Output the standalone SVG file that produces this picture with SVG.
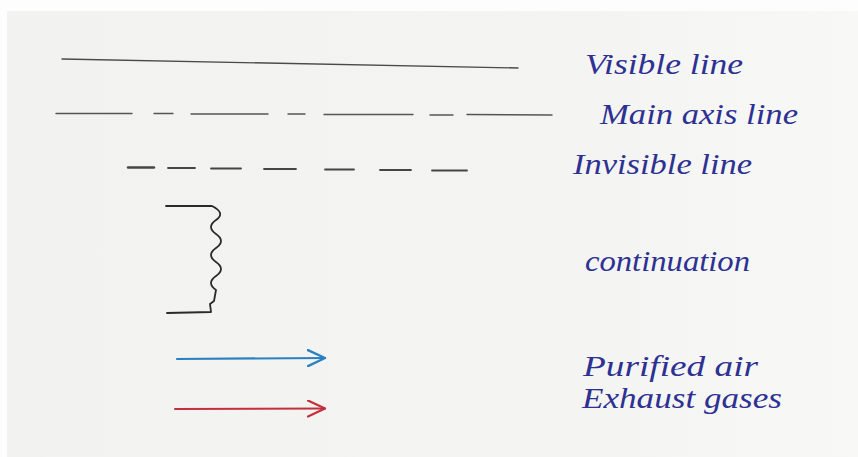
<svg xmlns="http://www.w3.org/2000/svg" width="858" height="457" viewBox="0 0 858 457">
  <style>
    .lbl { font-family: "Liberation Serif", "DejaVu Serif", serif; font-style: italic; font-size: 29px; fill: #2d3192; }
    .ink { fill: none; stroke-linecap: round; stroke-linejoin: round; }
  </style>
  <defs>
    <linearGradient id="paper" x1="0" y1="0" x2="1" y2="0">
      <stop offset="0" stop-color="#f2f2f0"/>
      <stop offset="0.7" stop-color="#f4f4f2"/>
      <stop offset="1" stop-color="#f8f8f7"/>
    </linearGradient>
    <marker id="headBlue" markerUnits="userSpaceOnUse" viewBox="0 0 20 18" refX="18" refY="9" markerWidth="20" markerHeight="18" orient="auto">
      <path d="M1,1 L18,9 L1,17" fill="none" stroke="#2a80c0" stroke-width="2.4" stroke-linecap="round" stroke-linejoin="round"/>
    </marker>
    <marker id="headRed" markerUnits="userSpaceOnUse" viewBox="0 0 20 18" refX="18" refY="9" markerWidth="20" markerHeight="18" orient="auto">
      <path d="M1,1 L18,9 L1,17" fill="none" stroke="#c2303c" stroke-width="2.2" stroke-linecap="round" stroke-linejoin="round"/>
    </marker>
  </defs>

  <rect x="0" y="0" width="858" height="457" fill="#fdfdfd"/>
  <rect x="7" y="11" width="851" height="446" fill="url(#paper)"/>

  <g id="visible-line">
    <line class="ink" x1="62" y1="59" x2="518" y2="68" stroke="#4a4a4a" stroke-width="1.4"/>
    <text class="lbl" x="585" y="74" textLength="158" lengthAdjust="spacingAndGlyphs">Visible line</text>
  </g>

  <g id="main-axis-line">
    <g class="ink" stroke="#555555" stroke-width="1.4">
      <line x1="56" y1="113.5" x2="132" y2="113.5"/>
      <line x1="154" y1="113.5" x2="173" y2="113.5"/>
      <line x1="191" y1="114" x2="268" y2="114"/>
      <line x1="288" y1="114" x2="305" y2="114"/>
      <line x1="324" y1="114.5" x2="413" y2="114.5"/>
      <line x1="430" y1="115" x2="453" y2="115"/>
      <line x1="467" y1="114.5" x2="552" y2="115"/>
    </g>
    <text class="lbl" x="600" y="124" textLength="198" lengthAdjust="spacingAndGlyphs">Main axis line</text>
  </g>

  <g id="invisible-line">
    <g class="ink" stroke="#454545" stroke-width="1.8">
      <line x1="128" y1="167.5" x2="154" y2="167.5" stroke-width="2.4"/>
      <line x1="168" y1="168" x2="195" y2="168"/>
      <line x1="211" y1="168.5" x2="241" y2="168.5"/>
      <line x1="264" y1="169" x2="296" y2="169"/>
      <line x1="325" y1="169.5" x2="354" y2="169.5"/>
      <line x1="380" y1="170" x2="411" y2="170"/>
      <line x1="432" y1="170.5" x2="467" y2="170.5"/>
    </g>
    <text class="lbl" x="573" y="174" textLength="179" lengthAdjust="spacingAndGlyphs">Invisible line</text>
  </g>

  <g id="continuation">
    <path class="ink" stroke="#2a2a2a" stroke-width="1.8" d="M166,206 L212,206 Q226,213 216,220 T216,234 T216,248 T216,262 T216,276 T216,290 L214,301 L210,304 L211,312 L167,313"/>
    <text class="lbl" x="585" y="271" textLength="165" lengthAdjust="spacingAndGlyphs">continuation</text>
  </g>

  <g id="purified-air">
    <text class="lbl" x="583" y="376" textLength="175" lengthAdjust="spacingAndGlyphs">Purified air</text>
  </g>

  <g id="exhaust-gases">
    <text class="lbl" x="582" y="408" textLength="200" lengthAdjust="spacingAndGlyphs">Exhaust gases</text>
  </g>

  <g id="connectors">
    <line class="ink" x1="177" y1="359" x2="325" y2="358" stroke="#2a80c0" stroke-width="2.2" marker-end="url(#headBlue)"/>
    <line class="ink" x1="175" y1="409" x2="325" y2="408.5" stroke="#c2303c" stroke-width="2" marker-end="url(#headRed)"/>
  </g>
</svg>
